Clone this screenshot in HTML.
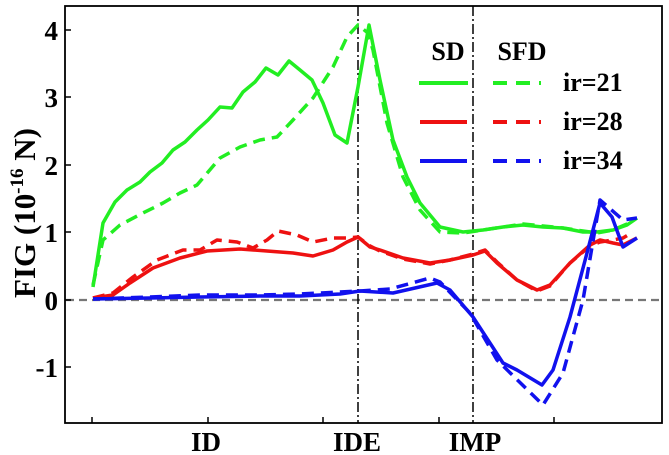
<!DOCTYPE html>
<html><head><meta charset="utf-8"><style>
html,body{margin:0;padding:0;background:#fff;}
svg{display:block;}
text{font-family:"Liberation Serif",serif;font-weight:bold;fill:#000;}
</style></head><body>
<svg width="669" height="455" viewBox="0 0 669 455" xmlns="http://www.w3.org/2000/svg">
<rect x="65" y="6" width="597" height="417" fill="none" stroke="#000" stroke-width="1.8"/>
<line x1="66" y1="300" x2="661" y2="300" stroke="#777" stroke-width="2.2" stroke-dasharray="8,5"/>
<line x1="358" y1="6" x2="358" y2="423" stroke="#000" stroke-width="1.5" stroke-dasharray="10,3,2,3"/>
<line x1="473" y1="6" x2="473" y2="423" stroke="#000" stroke-width="1.5" stroke-dasharray="10,3,2,3"/>
<g stroke="#000" stroke-width="1.5">
<line x1="65" y1="30" x2="71" y2="30"/><line x1="65" y1="97" x2="71" y2="97"/>
<line x1="65" y1="165" x2="71" y2="165"/><line x1="65" y1="232" x2="71" y2="232"/>
<line x1="65" y1="300" x2="71" y2="300"/><line x1="65" y1="367" x2="71" y2="367"/>
<line x1="92" y1="423" x2="92" y2="417"/><line x1="208" y1="423" x2="208" y2="417"/>
<line x1="323" y1="423" x2="323" y2="417"/><line x1="439" y1="423" x2="439" y2="417"/>
<line x1="554" y1="423" x2="554" y2="417"/>
</g>
<g font-size="27" text-anchor="end">
<text x="58" y="40">4</text><text x="58" y="107">3</text><text x="58" y="175">2</text>
<text x="58" y="242">1</text><text x="58" y="310">0</text><text x="58" y="377">-1</text>
</g>
<text transform="translate(35,213) rotate(-90)" font-size="31" text-anchor="middle">FIG (10<tspan font-size="19" dy="-12">-16</tspan><tspan dy="12"> N)</tspan></text>
<g font-size="27" text-anchor="middle">
<text x="206" y="451">ID</text><text x="357" y="451">IDE</text><text x="475" y="451">IMP</text>
</g>
<g fill="none" stroke-width="3.5" stroke-linejoin="round">
<polyline stroke="#22ee22" points="93,287 103,223 115,202 127,190 140,182 150,172 162,163 173,150 185,142 197,130 208,120 220,107 232,108 243,92 255,82 266,68 278,75 289,61 300,70 312,80 323,103 335,135 347,143 358,87 369,25 380,80 393,140 407,177 420,203 440,227 463,232 483,230 503,227 523,225 543,227 563,228 583,232 597,232 613,230 627,225 637,218"/>
<polyline stroke="#22ee22" stroke-dasharray="12,7" points="93,285 103,240 120,225 143,213 163,203 180,193 197,185 220,158 240,147 260,140 277,137 293,120 313,98 333,67 347,37 358,25 368,33 373,50 387,123 403,177 420,210 440,232 463,233 483,230 503,227 523,224 543,226 563,228 583,231 597,233 613,230 627,224 637,218"/>
<polyline stroke="#ee1111" points="93,298 113,295 130,283 153,268 180,258 207,251 240,249 267,251 293,253 313,256 333,250 347,242 358,237 370,247 380,250 403,258 430,263 450,260 473,255 485,251 497,263 517,280 537,290 550,285 570,263 590,245 600,240 613,243 623,245 637,238"/>
<polyline stroke="#ee1111" stroke-dasharray="12,7" points="93,298 113,293 133,277 157,260 183,250 200,250 217,240 237,242 253,248 267,240 278,231 297,235 313,242 333,238 347,238 358,237 370,246 380,251 403,259 430,264 450,260 473,254 485,250 497,262 517,280 537,291 550,286 570,263 590,246 600,242 613,240 623,238 633,232"/>
<polyline stroke="#1111ee" points="93,299 150,298 200,297 260,296 300,296 340,294 360,291 393,293 437,283 450,290 473,317 503,363 517,370 542,385 553,370 570,317 587,253 600,203 612,217 623,247 637,238"/>
<polyline stroke="#1111ee" stroke-dasharray="12,7" points="93,299 150,297 200,295 260,295 300,294 340,292 360,291 390,289 430,278 440,282 470,313 497,360 543,405 563,373 583,300 600,200 623,220 637,218"/>
</g>
<g font-size="26">
<text x="448" y="60" text-anchor="middle">SD</text>
<text x="522" y="60" text-anchor="middle">SFD</text>
<text x="563" y="91">ir=21</text><text x="563" y="130">ir=28</text><text x="563" y="169">ir=34</text>
</g>
<g stroke-width="4">
<line x1="419" y1="83" x2="468" y2="83" stroke="#22ee22"/>
<line x1="493" y1="83" x2="541" y2="83" stroke="#22ee22" stroke-dasharray="14,9"/>
<line x1="420" y1="122" x2="467" y2="122" stroke="#ee1111"/>
<line x1="493" y1="122" x2="541" y2="122" stroke="#ee1111" stroke-dasharray="14,9"/>
<line x1="420" y1="161" x2="467" y2="161" stroke="#1111ee"/>
<line x1="493" y1="161" x2="541" y2="161" stroke="#1111ee" stroke-dasharray="14,9"/>
</g>
</svg>
</body></html>
